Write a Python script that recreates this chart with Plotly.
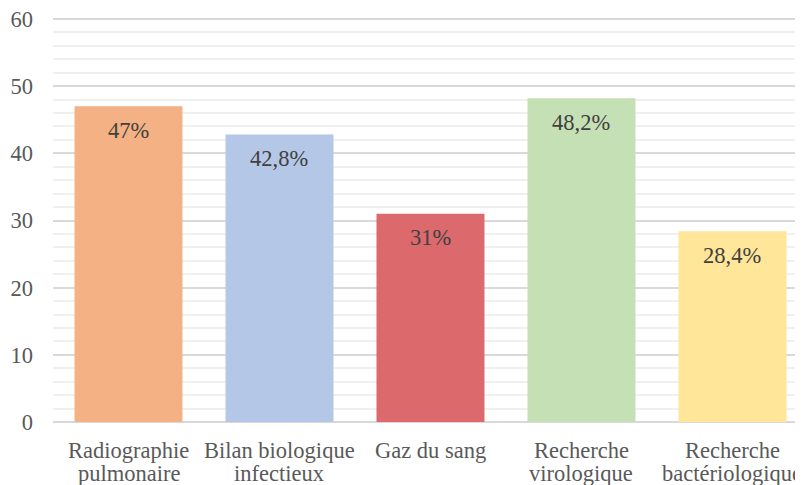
import plotly.graph_objects as go

categories = ["Radiographie<br>pulmonaire", "Bilan biologique<br>infectieux", "Gaz du sang",
              "Recherche<br>virologique", "Recherche<br>bactériologique"]
values = [47, 42.8, 31, 48.2, 28.4]
labels = ["47%", "42,8%", "31%", "48,2%", "28,4%"]
colors = ["#F4B183", "#B4C7E7", "#DC696C", "#C5E0B4", "#FFE699"]
y_ticks = [0, 10, 20, 30, 40, 50, 60]
x_idx = list(range(len(categories)))

SERIF = "Liberation Serif, Times New Roman, serif"
FS = 22.5

fig = go.Figure(go.Bar(x=x_idx, y=values, marker=dict(color=colors, line=dict(width=0)),
                       width=0.715, hoverinfo="skip"))

# data labels inside top of bars
for xi, v, t in zip(x_idx, values, labels):
    fig.add_annotation(x=xi, y=v, text=t, showarrow=False, yanchor="middle", yshift=-24,
                       font=dict(family=SERIF, size=FS, color="#404040"))

# category labels (two lines with tight line spacing)
for xi, cat in zip(x_idx, categories):
    for k, line in enumerate(cat.split("<br>")):
        fig.add_annotation(x=xi, y=0, xref="x", yref="paper", text=line, showarrow=False,
                           yanchor="middle", yshift=-28 - 23.5 * k,
                           font=dict(family=SERIF, size=FS, color="#595959"))

fig.update_layout(
    width=795, height=477,
    margin=dict(l=45, r=0, t=9, b=63),
    paper_bgcolor="white", plot_bgcolor="white",
    showlegend=False,
    font=dict(family=SERIF, size=FS, color="#595959"),
    xaxis=dict(tickmode="array", tickvals=x_idx, ticktext=[""] * len(x_idx),
               range=[-0.5, 4.467], showgrid=False, zeroline=False, automargin=False,
               showline=False, ticks=""),
    yaxis=dict(range=[0, 60.3], tickmode="array", tickvals=y_ticks,
               ticktext=[str(v) for v in y_ticks],
               showgrid=True, gridcolor="#d9d9d9", gridwidth=2,
               zeroline=True, zerolinecolor="#d9d9d9", zerolinewidth=2, automargin=False,
               ticks="", ticklabelstandoff=19, ticklabeloverflow="allow",
               tickfont=dict(family=SERIF, size=FS, color="#595959"),
               minor=dict(dtick=2, tick0=0, showgrid=True, gridcolor="#f0f0f0", gridwidth=2)),
)

fig.write_html("out.html")
